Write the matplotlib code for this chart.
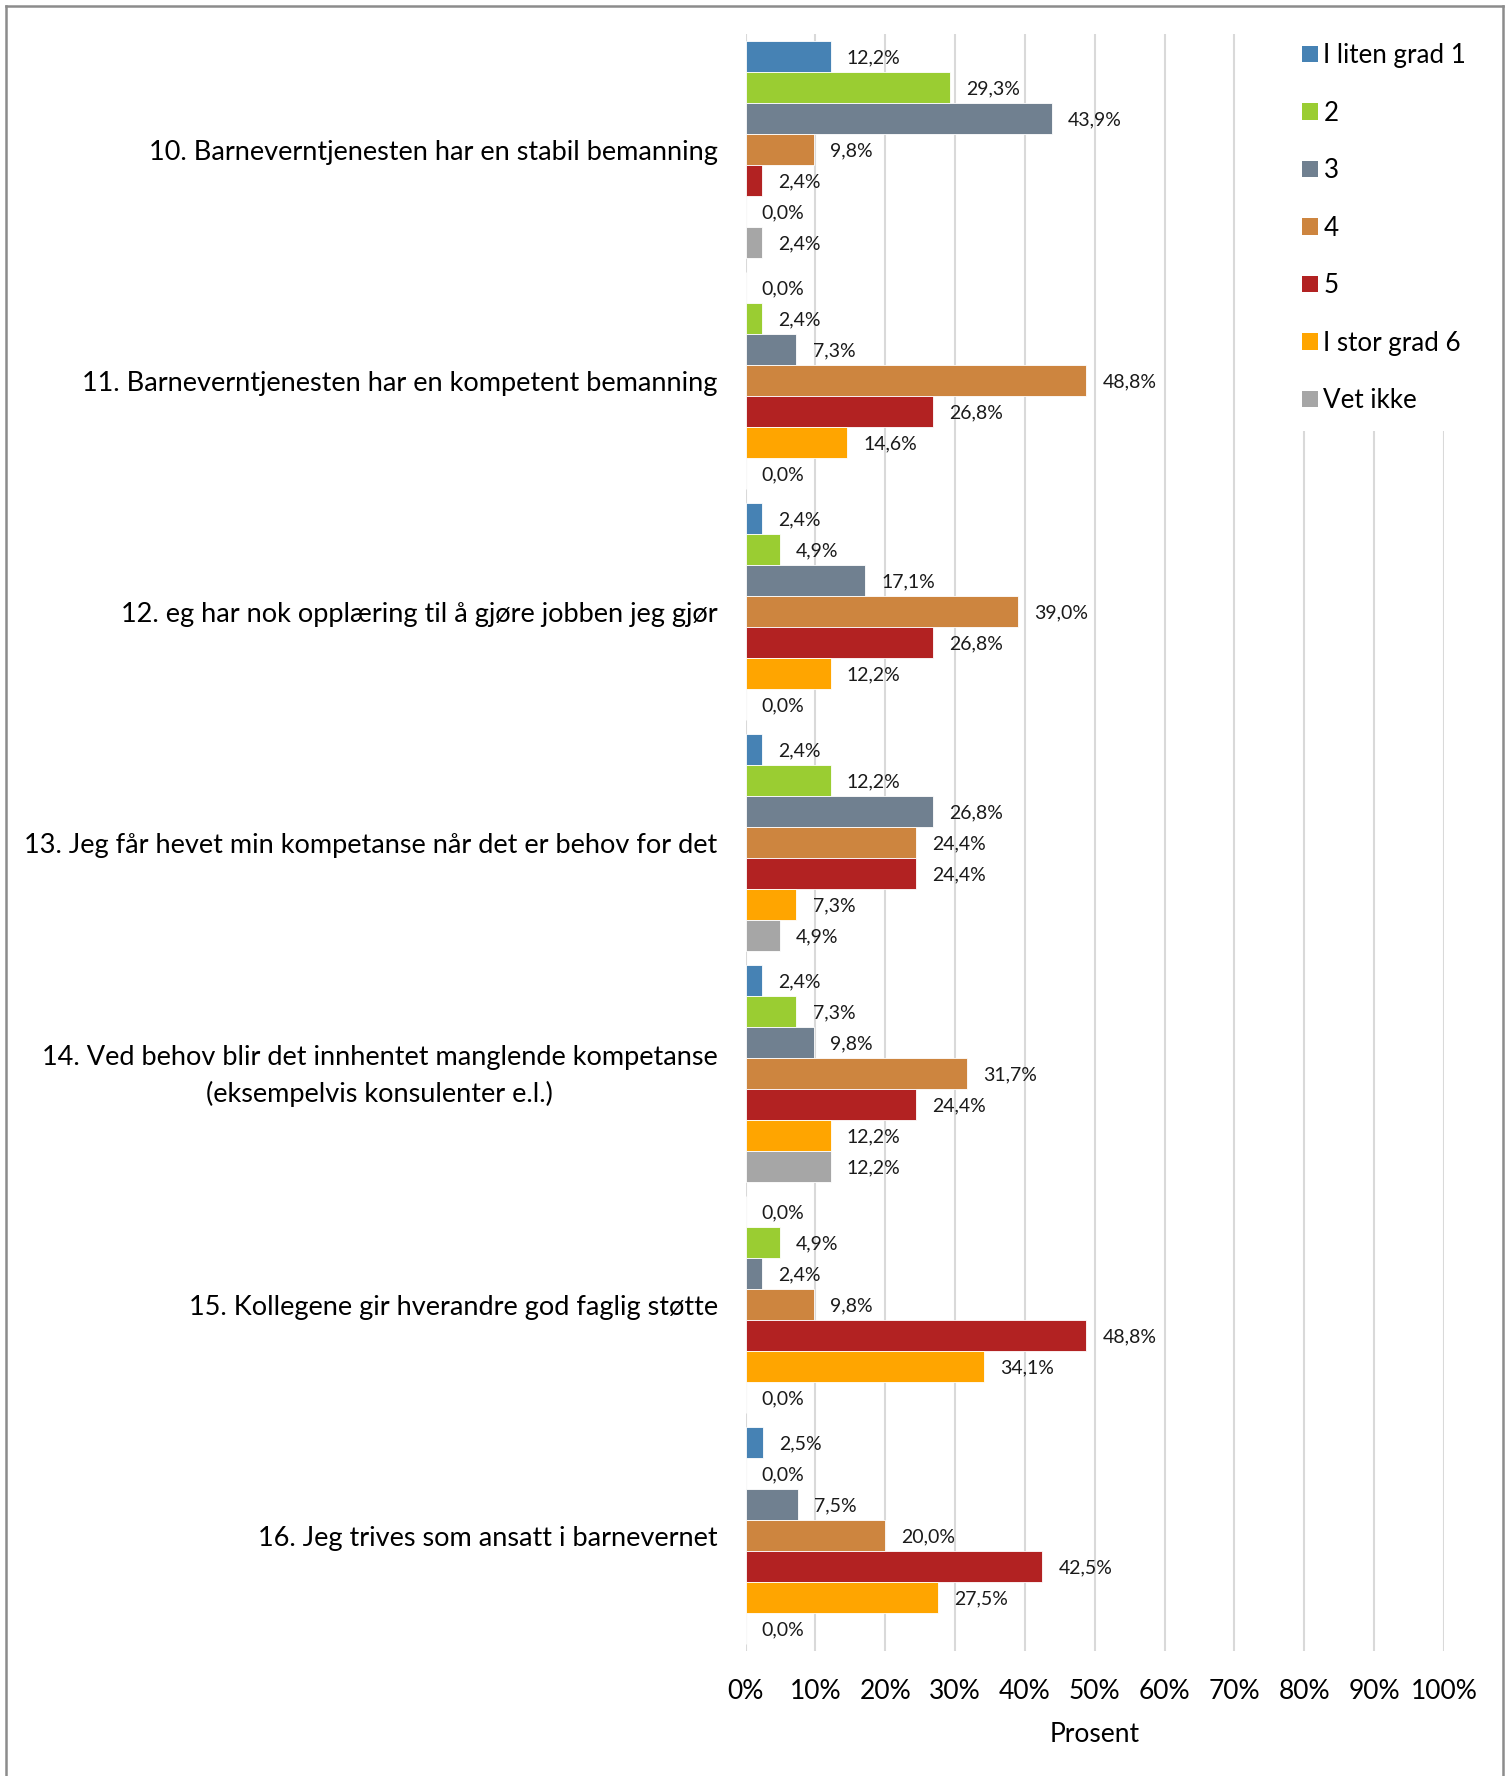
import matplotlib
matplotlib.use("Agg")
import matplotlib.pyplot as plt
from matplotlib.patches import Patch
from matplotlib.lines import Line2D
from matplotlib.transforms import ScaledTranslation
import numpy as np

plt.rcParams['font.family'] = ['Lato', 'DejaVu Sans']

categories = [
    "10. Barneverntjenesten har en stabil bemanning",
    "11. Barneverntjenesten har en kompetent bemanning",
    "12. eg har nok opplæring til å gjøre jobben jeg gjør",
    "13. Jeg får hevet min kompetanse når det er behov for det",
    "14. Ved behov blir det innhentet manglende kompetanse\n(eksempelvis konsulenter e.l.)",
    "15. Kollegene gir hverandre god faglig støtte",
    "16. Jeg trives som ansatt i barnevernet",
]
series_names = ["I liten grad 1", "2", "3", "4", "5", "I stor grad 6", "Vet ikke"]
s1 = [12.2, 0.0, 2.4, 2.4, 2.4, 0.0, 2.5]
s2 = [29.3, 2.4, 4.9, 12.2, 7.3, 4.9, 0.0]
s3 = [43.9, 7.3, 17.1, 26.8, 9.8, 2.4, 7.5]
s4 = [9.8, 48.8, 39.0, 24.4, 31.7, 9.8, 20.0]
s5 = [2.4, 26.8, 26.8, 24.4, 24.4, 48.8, 42.5]
s6 = [0.0, 14.6, 12.2, 7.3, 12.2, 34.1, 27.5]
s7 = [2.4, 0.0, 0.0, 4.9, 12.2, 0.0, 0.0]
series_values = [s1, s2, s3, s4, s5, s6, s7]
x_ticks = [0, 10, 20, 30, 40, 50, 60, 70, 80, 90, 100]
x_tick_labels = ["0%", "10%", "20%", "30%", "40%", "50%", "60%", "70%", "80%", "90%", "100%"]

colors = ["#4682B4", "#9ACD32", "#708090", "#CD853F", "#B22222", "#FFA500", "#A6A6A6"]

W, H = 1512, 1776
fig = plt.figure(figsize=(W / 100, H / 100), dpi=100)
fig.patch.set_facecolor("white")

ax_l, ax_r, ax_t, ax_b = 745.5, 1444, 34, 1651
ax = fig.add_axes([ax_l / W, 1 - ax_b / H, (ax_r - ax_l) / W, (ax_b - ax_t) / H])

n_cat = len(categories)
n_ser = len(series_values)
h = 31.1 / 231.0
group = h * n_ser
y_base = np.arange(n_cat)

for j, vals in enumerate(series_values):
    ys = y_base - group / 2 + h * (j + 0.5)
    ax.barh(ys, vals, height=h, color=colors[j], edgecolor="white", linewidth=0.6,
            label=series_names[j], zorder=3)
    for y, v in zip(ys, vals):
        ax.text(v + 2.3, y, f"{v:.1f}%".replace(".", ","), va="center_baseline", ha="left",
                fontsize=14, color="#1a1a1a", zorder=4)

ax.set_xlim(0, 100)
ax.set_ylim(n_cat - 0.5, -0.5)
ax.set_xticks(x_ticks)
ax.set_xticklabels(x_tick_labels, fontsize=19)
ax.set_yticks(y_base)
ax.set_yticklabels(categories, fontsize=19.5, linespacing=1.5)
ax.tick_params(axis="both", length=0)
ax.tick_params(axis="y", pad=20)
ax.tick_params(axis="x", pad=20)
for lbl in ax.get_yticklabels():
    lbl.set_multialignment("center")
    if "\n" in lbl.get_text():
        lbl.set_transform(lbl.get_transform() + ScaledTranslation(0, 5 / 100, fig.dpi_scale_trans))
ax.set_xlabel("Prosent", fontsize=19, labelpad=13)
for sp in ax.spines.values():
    sp.set_visible(False)
ax.grid(axis="x", color="#D9D9D9", linewidth=1.5, zorder=0)
ax.set_axisbelow(True)

handles = [Patch(facecolor=c, edgecolor="none") for c in colors]
leg = ax.legend(handles, series_names, loc="upper left",
                bbox_to_anchor=(1284 / W, 1 - 25 / H), bbox_transform=fig.transFigure,
                fontsize=18.7, frameon=True, fancybox=False, framealpha=1,
                handlelength=0.6, handleheight=0.6, handletextpad=0.22,
                labelspacing=1.25, borderpad=0.7, borderaxespad=0)
leg.get_frame().set_facecolor("white")
leg.get_frame().set_edgecolor("none")
leg.set_zorder(5)

# figure border (left, top, right)
bc = "#8C8C8C"
fig.add_artist(Line2D([6 / W, 6 / W], [0, 1 - 6 / H], transform=fig.transFigure, color=bc, linewidth=1.8))
fig.add_artist(Line2D([6 / W, 1503 / W], [1 - 6 / H, 1 - 6 / H], transform=fig.transFigure, color=bc, linewidth=1.8))
fig.add_artist(Line2D([1503 / W, 1503 / W], [0, 1 - 6 / H], transform=fig.transFigure, color=bc, linewidth=1.8))

fig.savefig("out.png", dpi=100, facecolor="white")
